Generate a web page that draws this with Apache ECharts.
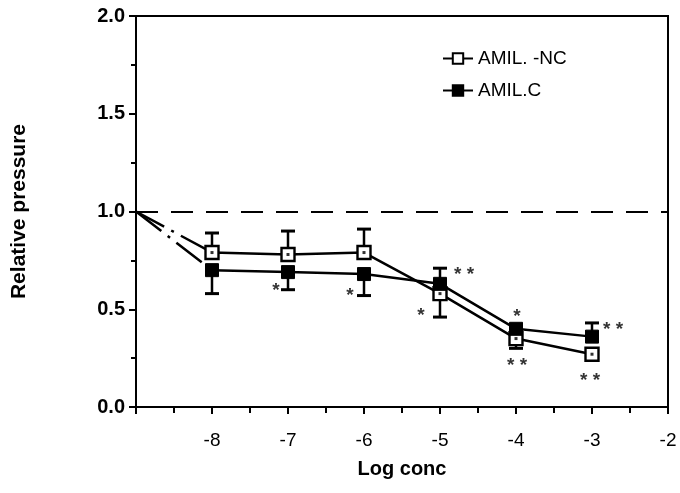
<!DOCTYPE html>
<html>
<head>
<meta charset="utf-8">
<script src="https://cdn.jsdelivr.net/npm/echarts@6/dist/echarts.min.js"></script>
<style>
html, body { margin: 0; padding: 0; background: #fff; }
#chart { width: 680px; height: 493px; }
</style>
</head>
<body>
<div id="chart"></div>
<script>
// Concentration steps (log10 M) and mean relative pressure per group
const logConc = [-8, -7, -6, -5, -4, -3];
const amilNC = [0.79, 0.78, 0.79, 0.58, 0.35, 0.27];
const amilC = [0.70, 0.69, 0.68, 0.63, 0.40, 0.36];
// Standard errors
const seNC = [0.10, 0.12, 0.12, 0.12, 0.05, 0.02];
const seC = [0.12, 0.09, 0.11, 0.08, 0.02, 0.07];
// Significance marks
const sigNC = ['', '', '', '*', '* *', '* *'];
const sigC = ['', '*', '*', '* *', '*', '* *'];
// Baseline (control) point both curves start from
const baseConc = -9;
const baseValue = 1.0;
const seriesNames = ['AMIL. -NC', 'AMIL.C'];

const FONT = '"Liberation Sans", Arial, Helvetica, sans-serif';

// Pixel offsets of the significance marks from their point
const sigPlacementNC = [null, null, null, [-19, 22], [1, 27], [-2, 27]];
const sigPlacementC = [null, [-12, 19], [-14, 22], [24, -9], [1, -12], [21, -7]];

function errorBars(vals, errs, other) {
  // each bar is drawn on the side facing away from the other curve
  return {
    type: 'custom',
    silent: true,
    z: 2,
    data: logConc.map((x, i) => [x, vals[i], vals[i] >= other[i] ? vals[i] + errs[i] : vals[i] - errs[i]]),
    encode: { x: 0, y: [1, 2] },
    renderItem(params, api) {
      const p0 = api.coord([api.value(0), api.value(1)]);
      const p1 = api.coord([api.value(0), api.value(2)]);
      const hw = 7;
      return {
        type: 'group',
        children: [
          { type: 'line', shape: { x1: p0[0], y1: p0[1], x2: p1[0], y2: p1[1] }, style: { stroke: '#000', lineWidth: 2.5 } },
          { type: 'line', shape: { x1: p1[0] - hw, y1: p1[1], x2: p1[0] + hw, y2: p1[1] }, style: { stroke: '#000', lineWidth: 3 } }
        ]
      };
    }
  };
}

function sigMarks(vals, marks, placement) {
  const data = [];
  logConc.forEach((x, i) => {
    if (!marks[i]) return;
    data.push({
      value: [x, vals[i]],
      label: { offset: placement[i], formatter: marks[i] }
    });
  });
  return {
    type: 'scatter',
    silent: true,
    symbolSize: 1,
    itemStyle: { color: 'rgba(0,0,0,0)' },
    z: 5,
    data,
    label: {
      show: true,
      position: 'inside',
      color: '#000',
      fontFamily: FONT,
      fontWeight: 'bold',
      fontSize: 19
    }
  };
}

function connector(vals) {
  return {
    type: 'line',
    silent: true,
    symbol: 'none',
    z: 2,
    data: [[baseConc, baseValue], [logConc[0], vals[0]]],
    lineStyle: { color: '#000', width: 2.5, type: [32, 8, 3, 8] }
  };
}

const chart = echarts.init(document.getElementById('chart'));
chart.setOption({
  animation: false,
  backgroundColor: '#fff',
  textStyle: { fontFamily: FONT },
  grid: {
    left: 136, right: 12, top: 16, bottom: 86,
    show: true, borderColor: '#000', borderWidth: 2, backgroundColor: 'transparent'
  },
  legend: {
    data: seriesNames,
    orient: 'vertical',
    left: 437,
    top: 44,
    itemWidth: 30,
    itemHeight: 13,
    itemGap: 13,
    textStyle: { fontFamily: FONT, fontSize: 19, color: '#000' }
  },
  xAxis: {
    type: 'value',
    min: -9,
    max: -2,
    interval: 1,
    name: 'Log conc',
    nameLocation: 'middle',
    nameGap: 52,
    nameTextStyle: { fontFamily: FONT, fontWeight: 'bold', fontSize: 20, color: '#000' },
    axisLine: { lineStyle: { color: '#000', width: 2 } },
    axisTick: { length: 7, lineStyle: { color: '#000', width: 2 } },
    minorTick: { show: true, splitNumber: 2, length: 6, lineStyle: { color: '#000', width: 2 } },
    axisLabel: {
      margin: 24,
      fontSize: 19,
      color: '#000',
      fontFamily: FONT,
      formatter: v => (v === -9 ? '' : String(v))
    },
    splitLine: { show: false }
  },
  yAxis: {
    type: 'value',
    min: 0,
    max: 2,
    interval: 0.5,
    name: 'Relative pressure',
    nameLocation: 'middle',
    nameGap: 106,
    nameTextStyle: { fontFamily: FONT, fontWeight: 'bold', fontSize: 21, color: '#000' },
    axisLine: { lineStyle: { color: '#000', width: 2 } },
    axisTick: { length: 7, lineStyle: { color: '#000', width: 2 } },
    minorTick: { show: true, splitNumber: 2, length: 5, lineStyle: { color: '#000', width: 2 } },
    axisLabel: {
      margin: 11,
      fontSize: 20,
      fontWeight: 'bold',
      color: '#000',
      fontFamily: FONT,
      formatter: v => v.toFixed(1)
    },
    splitLine: { show: false }
  },
  series: [
    connector(amilNC),
    connector(amilC),
    errorBars(amilNC, seNC, amilC),
    errorBars(amilC, seC, amilNC),
    {
      name: seriesNames[0],
      type: 'line',
      z: 3,
      data: logConc.map((x, i) => [x, amilNC[i]]),
      symbol: 'rect',
      symbolSize: 13,
      lineStyle: { color: '#000', width: 2.5 },
      itemStyle: { color: '#fff', borderColor: '#000', borderWidth: 2.4 },
      markLine: {
        silent: true,
        symbol: 'none',
        label: { show: false },
        lineStyle: { color: '#000', width: 2, type: [22, 13] },
        data: [{ yAxis: baseValue }]
      }
    },
    {
      name: seriesNames[1],
      type: 'line',
      z: 3,
      data: logConc.map((x, i) => [x, amilC[i]]),
      symbol: 'rect',
      symbolSize: 13,
      lineStyle: { color: '#000', width: 2.5 },
      itemStyle: { color: '#000', borderColor: '#000', borderWidth: 1 }
    },
    {
      // centre dot of the open markers
      type: 'scatter',
      silent: true,
      z: 4,
      symbol: 'rect',
      symbolSize: 3,
      itemStyle: { color: '#000' },
      data: logConc.map((x, i) => [x, amilNC[i]])
    },
    sigMarks(amilNC, sigNC, sigPlacementNC),
    sigMarks(amilC, sigC, sigPlacementC)
  ]
});
</script>
</body>
</html>
